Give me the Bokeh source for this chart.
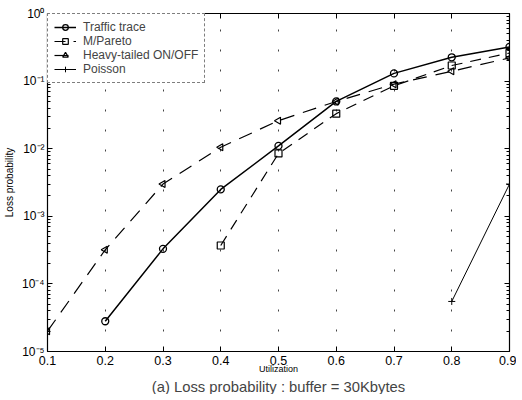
import math
from bokeh.plotting import figure
from bokeh.models import (LogAxis, LinearAxis, FixedTicker, Legend, LegendItem,
                          Title, Range1d)
from bokeh.embed import file_html
from bokeh.resources import INLINE

# ---- data ----
traffic_x = [0.2, 0.3, 0.4, 0.5, 0.6, 0.7, 0.8, 0.9]
traffic_y = [2.8e-5, 3.3e-4, 2.5e-3, 1.1e-2, 5.0e-2, 1.3e-1, 2.25e-1, 3.2e-1]
pareto_x = [0.4, 0.5, 0.6, 0.7, 0.8, 0.9]
pareto_y = [3.7e-4, 8.5e-3, 3.3e-2, 8.5e-2, 1.7e-1, 2.6e-1]
heavy_x = [0.1, 0.2, 0.3, 0.4, 0.5, 0.6, 0.7, 0.8, 0.9]
heavy_y = [2.0e-5, 3.2e-4, 3.0e-3, 1.05e-2, 2.6e-2, 5.0e-2, 9.0e-2, 1.4e-1, 2.2e-1]
poisson_x = [0.8, 0.9]
poisson_y = [5.5e-5, 3.0e-3]

x_ticks = [0.1, 0.2, 0.3, 0.4, 0.5, 0.6, 0.7, 0.8, 0.9]
y_ticks = [1e-5, 1e-4, 1e-3, 1e-2, 1e-1, 1e0]
y_tick_labels = ["10⁻⁵", "10⁻⁴", "10⁻³", "10⁻²", "10⁻¹", "10⁰"]

FONT = "Liberation Sans"

p = figure(output_backend="svg", toolbar_location=None, y_axis_type="log",
           x_range=Range1d(0.1, 0.9), y_range=Range1d(1e-5, 1.0),
           frame_width=462, frame_height=338,
           min_border_top=13, min_border_right=7, min_border_left=0,
           min_border_bottom=0, background_fill_color="white",
           border_fill_color="white", outline_line_color="black")

minor = [m * 10.0 ** k for k in range(-5, 0) for m in range(2, 10)]
yticker = FixedTicker(ticks=y_ticks, minor_ticks=minor)
xticker = FixedTicker(ticks=x_ticks)

overrides = {t: lab for t, lab in zip(y_ticks, y_tick_labels)}

def style_axis(ax):
    ax.axis_line_color = "black"
    ax.axis_line_width = 1.2
    ax.major_tick_in = 5
    ax.major_tick_out = 0
    ax.minor_tick_in = 3
    ax.minor_tick_out = 0
    ax.major_tick_line_color = "black"
    ax.minor_tick_line_color = "black"
    ax.major_label_text_font = FONT
    ax.major_label_text_font_size = "12px"
    ax.major_label_text_color = "black"
    ax.axis_label_text_font = FONT
    ax.axis_label_text_font_style = "normal"
    ax.axis_label_text_color = "black"

ya = p.yaxis[0]
ya.ticker = yticker
ya.major_label_overrides = overrides
ya.axis_label = "Loss probability"
ya.axis_label_text_font_size = "10px"
ya.axis_label_standoff = 4
ya.major_label_standoff = 3
style_axis(ya)

xa = p.xaxis[0]
xa.ticker = xticker
xa.axis_label = "Utilization"
xa.axis_label_text_font_size = "9px"
xa.major_label_standoff = 4
style_axis(xa)
xa.major_label_text_font_size = "12.5px"
xa.axis_label_standoff = -4

ra = LogAxis(ticker=yticker)
style_axis(ra)
ra.major_label_text_color = None
ra.major_label_standoff = 0
p.add_layout(ra, "right")
ta = LinearAxis(ticker=xticker)
style_axis(ta)
ta.major_label_text_color = None
ta.major_label_standoff = 0
p.add_layout(ta, "above")

p.xgrid.ticker = xticker
p.xgrid.grid_line_color = "#444444"
p.xgrid.grid_line_dash = "2 18"
p.xgrid.grid_line_width = 1
p.ygrid.grid_line_color = None

r1l = p.line(traffic_x, traffic_y, line_color="black", line_width=1.5)
r1m = p.scatter(traffic_x, traffic_y, marker="circle", size=7,
                fill_color=None, line_color="black", line_width=1.3)
r2l = p.line(pareto_x, pareto_y, line_color="black", line_width=1.2,
             line_dash="11 8")
r2m = p.scatter(pareto_x, pareto_y, marker="square", size=7,
                fill_color=None, line_color="black", line_width=1.2)
r3l = p.line(heavy_x, heavy_y, line_color="black", line_width=1.2,
             line_dash="14 9")
r3m = p.scatter(heavy_x, heavy_y, marker="triangle", angle=math.pi / 2,
                size=7, fill_color=None, line_color="black", line_width=1.2)
r4l = p.line(poisson_x, poisson_y, line_color="black", line_width=1.0)
r4m = p.scatter(poisson_x, poisson_y, marker="cross", size=7,
                line_color="black", line_width=1.0)

legend = Legend(items=[
    LegendItem(label="Traffic trace", renderers=[r1l, r1m]),
    LegendItem(label="M/Pareto", renderers=[r2l, r2m]),
    LegendItem(label="Heavy-tailed ON/OFF", renderers=[r3l, r3m], index=0),
    LegendItem(label="Poisson", renderers=[r4l, r4m]),
], location="top_left")
legend.margin = 0
legend.padding = 6
legend.spacing = 0
legend.glyph_width = 22
legend.glyph_height = 14
legend.label_height = 14
legend.label_standoff = 7
legend.label_text_font = FONT
legend.label_text_font_size = "12px"
legend.border_line_color = "black"
legend.border_line_dash = "1 3"
legend.border_line_width = 1
legend.background_fill_alpha = 1
p.add_layout(legend)

title = Title(text="(a) Loss probability : buffer = 30Kbytes", align="center",
              text_font=FONT, text_font_size="14.8px", text_font_style="normal",
              standoff=0)
p.add_layout(title, "below")

open("out.html", "w").write(file_html(p, INLINE))
